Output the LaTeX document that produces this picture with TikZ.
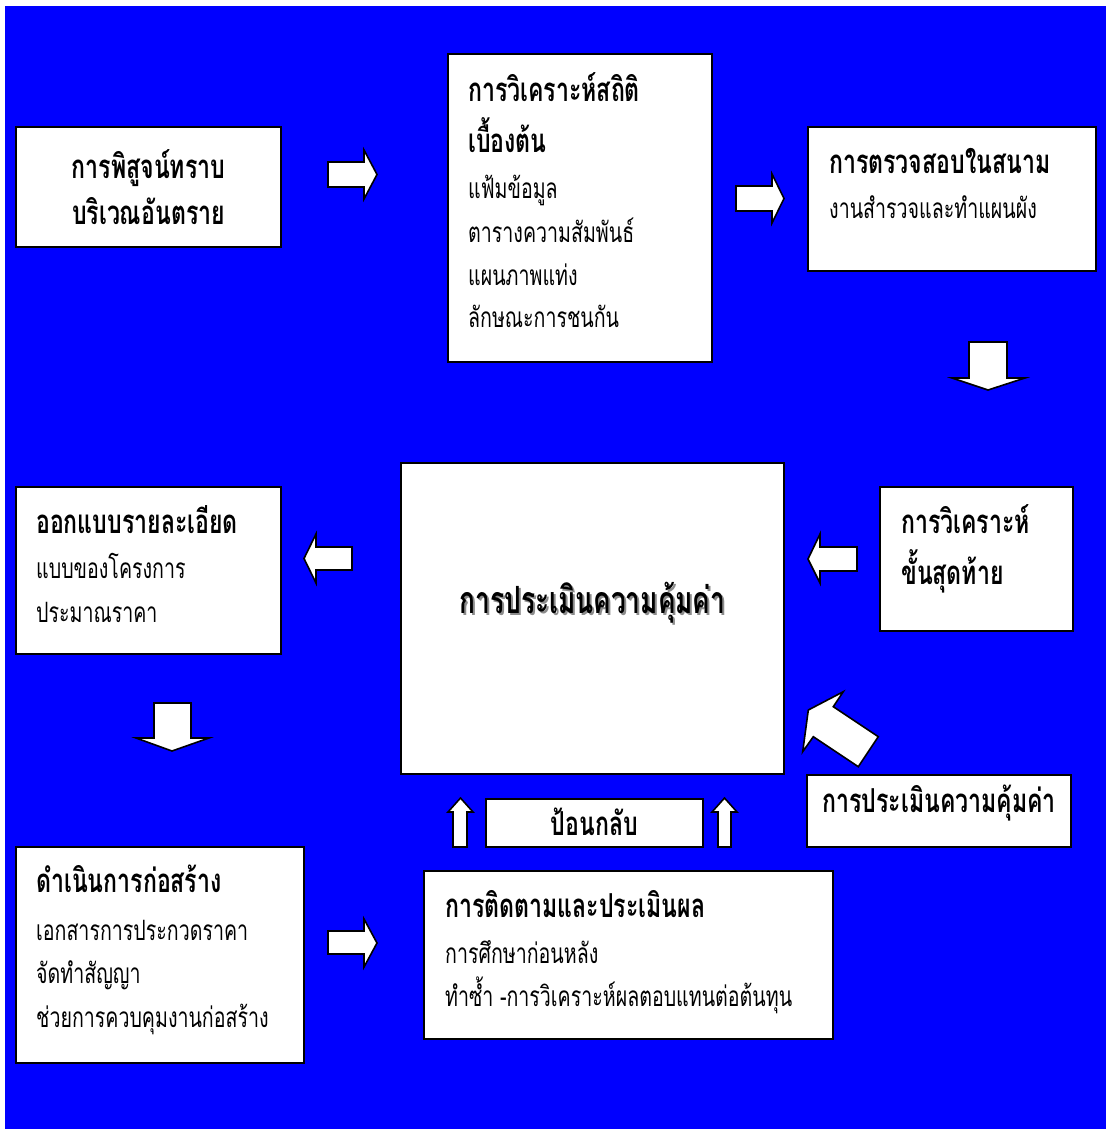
\documentclass[tikz,border=0pt]{standalone}
\usepackage{fontspec}
\newfontfamily\thaifont[Script=Thai,FakeStretch=0.7]{Loma}
\definecolor{bgblue}{RGB}{0,0,255}
\begin{document}
\begin{tikzpicture}[x=1pt,y=-1pt,
  box/.style={draw=black, fill=white, line width=2pt, inner sep=0pt},
  blockarrow/.style={draw=black, fill=white, line width=1.6pt, line join=miter},
  ttl/.style={font=\thaifont\bfseries\fontsize{33}{38}\selectfont, inner sep=0pt},
  bdy/.style={font=\thaifont\fontsize{28}{34}\selectfont, inner sep=0pt},
  big/.style={font=\thaifont\bfseries\fontsize{37.5}{42}\selectfont, inner sep=0pt}]
\useasboundingbox (0,0) rectangle (1106,1129);
\fill[white] (0,0) rectangle (1106,1129);
\fill[bgblue] (5,6) rectangle (1106,1129);

% boxes
\node[box, minimum width=265pt, minimum height=120pt] (b1) at (148.5,187) {};
\node[box, minimum width=264pt, minimum height=308pt] (b2) at (580,208) {};
\node[box, minimum width=288pt, minimum height=144pt] (b3) at (952,199) {};
\node[box, minimum width=193pt, minimum height=144pt] (b4) at (976.5,559) {};
\node[box, minimum width=383pt, minimum height=311pt] (bc) at (592.5,618.5) {};
\node[box, minimum width=265pt, minimum height=167pt] (b5) at (148.5,570.5) {};
\node[box, minimum width=288pt, minimum height=216pt] (b6) at (160,955) {};
\node[box, minimum width=409pt, minimum height=168pt] (b7) at (628.5,955) {};
\node[box, minimum width=217pt, minimum height=48pt] (bf) at (594.5,823) {};
\node[box, minimum width=264pt, minimum height=72pt] (be) at (939,811) {};

% texts
\node[ttl, anchor=base] (t1a) at (148.5,178) {การพิสูจน์ทราบ};
\node[ttl, anchor=base] (t1b) at (148.5,224) {บริเวณอันตราย};

\node[ttl, anchor=base west] (t2a) at (468,102) {การวิเคราะห์สถิติ};
\node[ttl, anchor=base west] (t2b) at (468,152) {เบื้องต้น};
\node[bdy, anchor=base west] (t2c) at (468,198) {แฟ้มข้อมูล};
\node[bdy, anchor=base west] (t2d) at (468,242) {ตารางความสัมพันธ์};
\node[bdy, anchor=base west] (t2e) at (468,285) {แผนภาพแท่ง};
\node[bdy, anchor=base west] (t2f) at (468,327) {ลักษณะการชนกัน};

\node[ttl, anchor=base west] (t3a) at (829,173) {การตรวจสอบในสนาม};
\node[bdy, anchor=base west] (t3b) at (829,218) {งานสำรวจและทำแผนผัง};

\node[ttl, anchor=base west] (t4a) at (901,533) {การวิเคราะห์};
\node[ttl, anchor=base west] (t4b) at (901,584) {ขั้นสุดท้าย};

\node[big, anchor=base, text=black!45] (tcs) at (594.5,615) {การประเมินความคุ้มค่า};
\node[big, anchor=base] (tc) at (592.5,613) {การประเมินความคุ้มค่า};

\node[ttl, anchor=base west] (t5a) at (36,533) {ออกแบบรายละเอียด};
\node[bdy, anchor=base west] (t5b) at (36,578) {แบบของโครงการ};
\node[bdy, anchor=base west] (t5c) at (36,622) {ประมาณราคา};

\node[ttl, anchor=base west] (t6a) at (36,892) {ดำเนินการก่อสร้าง};
\node[bdy, anchor=base west] (t6b) at (36,940) {เอกสารการประกวดราคา};
\node[bdy, anchor=base west] (t6c) at (36,983) {จัดทำสัญญา};
\node[bdy, anchor=base west] (t6d) at (36,1027) {ช่วยการควบคุมงานก่อสร้าง};

\node[ttl, anchor=base west] (t7a) at (445,917) {การติดตามและประเมินผล};
\node[bdy, anchor=base west] (t7b) at (445,963) {การศึกษาก่อนหลัง};
\node[bdy, anchor=base west] (t7c) at (445,1006) {ทำซ้ำ -การวิเคราะห์ผลตอบแทนต่อต้นทุน};

\node[ttl, anchor=base] (tf) at (594.5,835) {ป้อนกลับ};
\node[ttl, anchor=base] (te) at (939,812) {การประเมินความคุ้มค่า};

% block arrows
\filldraw[blockarrow] (328,162) -- (364,162) -- (364,150) -- (377,174.5) -- (364,199) -- (364,187) -- (328,187) -- cycle;
\filldraw[blockarrow] (736,186) -- (772,186) -- (772,174) -- (784,198.5) -- (772,223) -- (772,211) -- (736,211) -- cycle;
\filldraw[blockarrow] (969,342) -- (1007,342) -- (1007,378) -- (1025,378) -- (988,390) -- (952,378) -- (969,378) -- cycle;
\filldraw[blockarrow] (857,547) -- (820,547) -- (820,534) -- (808,559) -- (820,583) -- (820,571) -- (857,571) -- cycle;
\filldraw[blockarrow] (352,547) -- (316,547) -- (316,534) -- (304,558.5) -- (316,583) -- (316,570) -- (352,570) -- cycle;
\filldraw[blockarrow] (154,703) -- (191,703) -- (191,738) -- (209,738) -- (172,751) -- (136,738) -- (154,738) -- cycle;
\filldraw[blockarrow] (328,931) -- (364,931) -- (364,919) -- (377,943) -- (364,967) -- (364,954) -- (328,954) -- cycle;
\filldraw[blockarrow] (453,847) -- (453,812) -- (448,812) -- (460.5,798) -- (473,812) -- (467,812) -- (467,847) -- cycle;
\filldraw[blockarrow] (718,847) -- (718,812) -- (712,812) -- (724.5,798) -- (737,812) -- (731,812) -- (731,847) -- cycle;
\filldraw[blockarrow] (808.3,710) -- (843.3,691.7) -- (833.3,706.7) -- (878.3,736.7) -- (858.3,766.7) -- (813.3,736.7) -- (802.7,751.7) -- cycle;
\end{tikzpicture}
\end{document}
